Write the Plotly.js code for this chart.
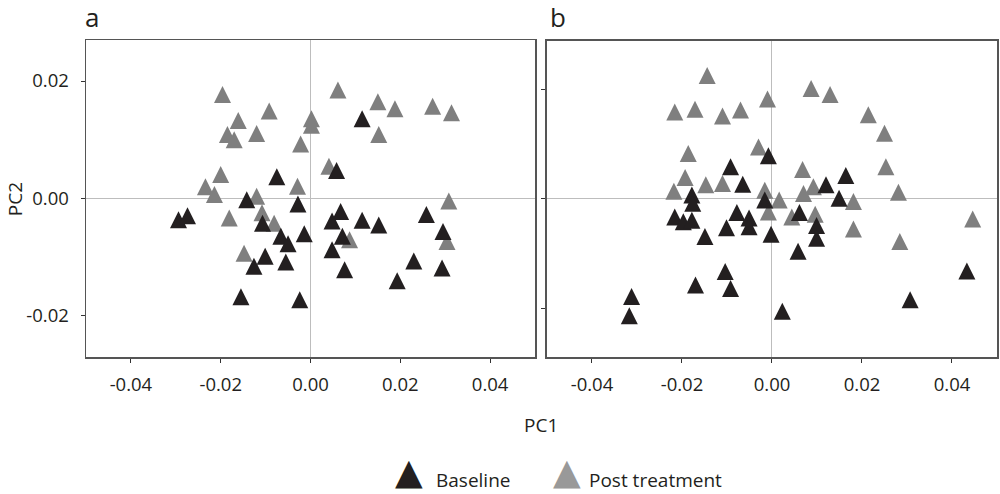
<!DOCTYPE html>
<html>
<head>
<meta charset="utf-8">
<script src="https://cdn.plot.ly/plotly-3.0.1.min.js"></script>
<style>html,body{margin:0;padding:0;background:#fff;}#chart{width:1000px;height:494px;}</style>
</head>
<body>
<div id="chart"></div>
<script>
// ---- data ----
const seriesNames = ["Baseline", "Post treatment"];
const panelLabels = ["a", "b"];

// Panel a
const baseA_x = [-0.0075,-0.0142,-0.0294,-0.0274,-0.0107,-0.0066,-0.0050,-0.0101,-0.0126,-0.0055,-0.0155,-0.0024,-0.0028,-0.0014,0.0067,0.0048,0.0115,0.0152,0.0071,0.0048,0.0076,0.0258,0.0295,0.0230,0.0293,0.0193,0.0058,0.0115];
const baseA_y = [0.0032,-0.0007,-0.0041,-0.0034,-0.0047,-0.0069,-0.0082,-0.0103,-0.0120,-0.0113,-0.0172,-0.0177,-0.0014,-0.0065,-0.0027,-0.0043,-0.0042,-0.0050,-0.0069,-0.0092,-0.0126,-0.0032,-0.0061,-0.0111,-0.0123,-0.0145,0.0043,0.0131];
const postA_x = [-0.0196,-0.0161,-0.0092,-0.0185,-0.0170,-0.0120,-0.0022,-0.0200,-0.0234,-0.0214,-0.0120,-0.0029,-0.0108,-0.0181,-0.0081,-0.0148,0.0061,0.0150,0.0188,0.0272,0.0314,0.0152,0.0002,0.0002,0.0041,0.0087,0.0308,0.0304];
const postA_y = [0.0172,0.0128,0.0144,0.0104,0.0095,0.0106,0.0088,0.0036,0.0015,0.0002,-0.0001,0.0016,-0.0029,-0.0038,-0.0047,-0.0098,0.0180,0.0160,0.0148,0.0152,0.0141,0.0104,0.0131,0.0120,0.0050,-0.0075,-0.0009,-0.0078];

// Panel b
const baseB_x = [-0.0008,-0.0092,-0.0065,-0.0178,-0.0176,-0.0216,-0.0197,-0.0178,-0.0149,-0.0101,-0.0078,-0.0051,-0.0051,-0.0104,-0.0092,-0.0170,-0.0312,-0.0317,0.0164,0.0120,-0.0016,0.0149,0.0061,0.0099,0.0099,-0.0002,0.0058,0.0433,0.0307,0.0023];
const baseB_y = [0.0074,0.0054,0.0022,0.0002,-0.0013,-0.0038,-0.0047,-0.0044,-0.0074,-0.0058,-0.0030,-0.0040,-0.0056,-0.0138,-0.0169,-0.0163,-0.0184,-0.0219,0.0038,0.0021,-0.0007,-0.0004,-0.0030,-0.0054,-0.0077,-0.0070,-0.0101,-0.0137,-0.0190,-0.0211];
const postB_x = [-0.0144,-0.0216,-0.0171,-0.0110,-0.0070,-0.0010,-0.0186,-0.0030,-0.0193,-0.0147,-0.0110,-0.0218,0.0087,0.0129,0.0214,0.0250,0.0068,0.0253,0.0092,0.0070,0.0281,0.0016,0.0181,-0.0016,-0.0008,0.0044,0.0096,0.0181,0.0284,0.0446];
const postB_y = [0.0221,0.0154,0.0159,0.0147,0.0158,0.0178,0.0078,0.0090,0.0034,0.0021,0.0023,0.0009,0.0197,0.0186,0.0149,0.0115,0.0049,0.0054,0.0017,0.0005,0.0007,-0.0007,-0.0010,0.0011,-0.0029,-0.0038,-0.0033,-0.0060,-0.0083,-0.0042];

// Tick labels
const xTickVals = [-0.04, -0.02, 0, 0.02, 0.04];
const xTickText = ["-0.04", "-0.02", "0.00", "0.02", "0.04"];
const yTickVals = [-0.02, 0, 0.02];
const yTickText = ["-0.02", "0.00", "0.02"];

// ---- styling ----
const BLACK = "#231f20";
const GRAY = "#7f7f7f";
const LEGEND_GRAY = "#999999";
const FONT = "Open Sans, Noto Sans, sans-serif";
const MSIZE = 17;

function tri(color) {
  // upward triangle, centred on the data point
  return {symbol: "arrow-down", angle: 180, standoff: MSIZE * 2 / 3, size: MSIZE, color: color, line: {width: 0}};
}

const traces = [
  {x: postA_x, y: postA_y, xaxis: "x", yaxis: "y", name: seriesNames[1], mode: "markers", marker: tri(GRAY), showlegend: false, hoverinfo: "x+y"},
  {x: baseA_x, y: baseA_y, xaxis: "x", yaxis: "y", name: seriesNames[0], mode: "markers", marker: tri(BLACK), showlegend: false, hoverinfo: "x+y"},
  {x: postB_x, y: postB_y, xaxis: "x2", yaxis: "y2", name: seriesNames[1], mode: "markers", marker: tri(GRAY), showlegend: false, hoverinfo: "x+y"},
  {x: baseB_x, y: baseB_y, xaxis: "x2", yaxis: "y2", name: seriesNames[0], mode: "markers", marker: tri(BLACK), showlegend: false, hoverinfo: "x+y"}
];

const axisCommon = {
  showgrid: false, zeroline: true, zerolinecolor: "#bdbdbd", zerolinewidth: 1,
  showline: true, mirror: true, linecolor: "#555555", linewidth: 1.5,
  ticks: "outside", ticklen: 4, tickwidth: 1, tickcolor: "#333333",
  tickfont: {family: FONT, size: 18.5, color: BLACK}, fixedrange: true
};

const LEG_Y = (357 - 471.5) / 317;   // legend row (paper units)
const LEG_TY = (357 - 480) / 317;    // legend text row

const layout = {
  width: 1000, height: 494,
  margin: {l: 86, r: 3, t: 40, b: 137},
  paper_bgcolor: "#ffffff", plot_bgcolor: "#ffffff",
  font: {family: FONT, color: BLACK},
  showlegend: false,
  xaxis: Object.assign({}, axisCommon, {domain: [0, 0.4929], range: [-0.05, 0.05], tickvals: xTickVals, ticktext: xTickText, anchor: "y", ticklabelstandoff: 6}),
  yaxis: Object.assign({}, axisCommon, {domain: [0, 1], range: [-0.02698, 0.02698], tickvals: yTickVals, ticktext: yTickText, anchor: "x", ticklabelstandoff: 8}),
  xaxis2: Object.assign({}, axisCommon, {domain: [0.506, 1], range: [-0.05, 0.05], tickvals: xTickVals, ticktext: xTickText, anchor: "y2", ticklabelstandoff: 6}),
  yaxis2: Object.assign({}, axisCommon, {domain: [0, 0.997], range: [-0.02895, 0.02895], tickvals: yTickVals, ticktext: yTickText, anchor: "x2", showticklabels: false}),
  annotations: [
    {text: panelLabels[0], xref: "paper", yref: "paper", x: -0.003, y: 1.0726, xanchor: "left", yanchor: "middle", showarrow: false, font: {family: FONT, size: 26, color: BLACK}},
    {text: panelLabels[1], xref: "paper", yref: "paper", x: 0.507, y: 1.0726, xanchor: "left", yanchor: "middle", showarrow: false, font: {family: FONT, size: 26, color: BLACK}},
    {text: "PC1", xref: "paper", yref: "paper", x: 0.4995, y: -0.2145, xanchor: "center", yanchor: "middle", showarrow: false, font: {family: FONT, size: 19, color: BLACK}},
    {text: "PC2", xref: "paper", yref: "paper", x: -0.0779, y: 0.498, xanchor: "center", yanchor: "middle", textangle: -90, showarrow: false, font: {family: FONT, size: 19, color: BLACK}},
    {text: "\u25B2", xref: "paper", yref: "paper", x: 0.3546, y: LEG_Y, xanchor: "center", yanchor: "middle", showarrow: false, font: {family: "DejaVu Sans", size: 36, color: BLACK}},
    {text: seriesNames[0], xref: "paper", yref: "paper", x: 0.382, y: LEG_TY, xanchor: "left", yanchor: "middle", showarrow: false, font: {family: FONT, size: 19, color: BLACK}},
    {text: "\u25B2", xref: "paper", yref: "paper", x: 0.5285, y: LEG_Y, xanchor: "center", yanchor: "middle", showarrow: false, font: {family: "DejaVu Sans", size: 36, color: LEGEND_GRAY}},
    {text: seriesNames[1], xref: "paper", yref: "paper", x: 0.5499, y: LEG_TY, xanchor: "left", yanchor: "middle", showarrow: false, font: {family: FONT, size: 19, color: BLACK}}
  ]
};

Plotly.newPlot("chart", traces, layout, {displayModeBar: false, staticPlot: true});
</script>
</body>
</html>
